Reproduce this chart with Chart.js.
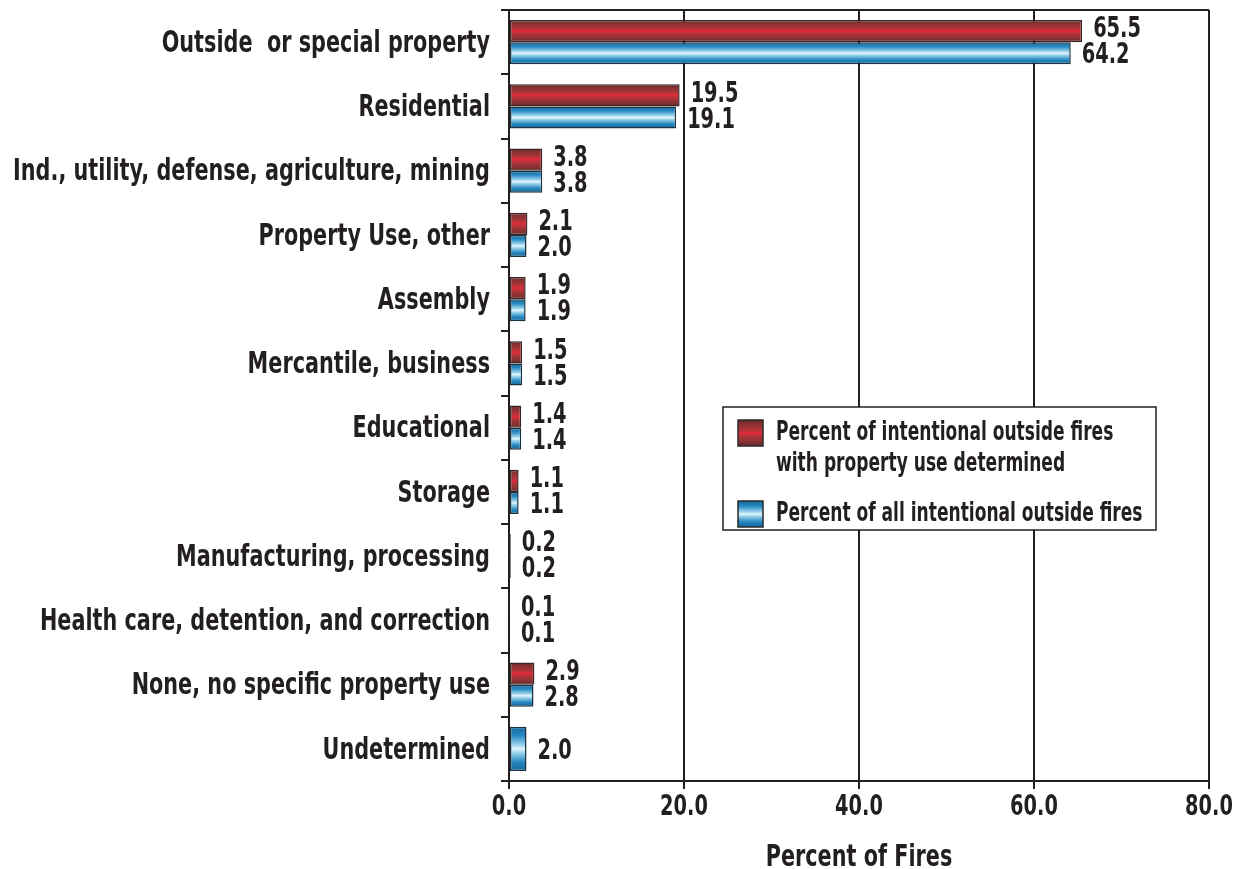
<!DOCTYPE html>
<html>
<head>
<meta charset="utf-8">
<script src="https://cdn.jsdelivr.net/npm/chart.js@4/dist/chart.umd.min.js"></script>
<style>
  html, body { margin: 0; padding: 0; background: #fff; }
  #wrap { width: 1240px; height: 869px; }
</style>
</head>
<body>
<div id="wrap"><canvas id="chart" width="1240" height="869"></canvas></div>
<script>
var categories = [
  'Outside  or special property',
  'Residential',
  'Ind., utility, defense, agriculture, mining',
  'Property Use, other',
  'Assembly',
  'Mercantile, business',
  'Educational',
  'Storage',
  'Manufacturing, processing',
  'Health care, detention, and correction',
  'None, no specific property use',
  'Undetermined'
];
var pctDetermined = [65.5, 19.5, 3.8, 2.1, 1.9, 1.5, 1.4, 1.1, 0.2, 0.1, 2.9, null];
var pctAll        = [64.2, 19.1, 3.8, 2.0, 1.9, 1.5, 1.4, 1.1, 0.2, 0.1, 2.8, 2.0];
var xTicks = [0, 20, 40, 60, 80];
var xTitle = 'Percent of Fires';

var FONT = '"DejaVu Sans Condensed", "Liberation Sans Narrow", sans-serif';
var INK = '#231f20';
var SQUEEZE = 0.77;   // narrow the condensed face a bit more

var redStops = [[0, '#6a2828'], [0.18, '#8c3333'], [0.4, '#b5343a'], [0.5, '#e4293c'], [0.6, '#b5343a'], [0.82, '#8c3333'], [1, '#6a2828']];
var blueStops = [[0, '#17699c'], [0.2, '#2689c2'], [0.42, '#9fd6ef'], [0.5, '#e6f5fc'], [0.58, '#9fd6ef'], [0.8, '#2486be'], [1, '#17699c']];

function makeGrad(ctx, top, bottom, stops) {
  var g = ctx.createLinearGradient(0, top, 0, bottom);
  stops.forEach(function (s) { g.addColorStop(s[0], s[1]); });
  return g;
}

function squeezedText(ctx, text, x, y, size, align, sx) {
  ctx.save();
  ctx.font = 'bold ' + size + 'px ' + FONT;
  ctx.textAlign = align;
  ctx.textBaseline = 'middle';
  ctx.fillStyle = INK;
  ctx.translate(x, y);
  ctx.scale(sx || SQUEEZE, 1);
  ctx.fillText(text, 0, 0);
  ctx.restore();
}

// shaded fill per bar, built from the element's own geometry
var barShading = {
  id: 'barShading',
  beforeDatasetsDraw: function (chart) {
    chart.data.datasets.forEach(function (ds, di) {
      var meta = chart.getDatasetMeta(di);
      meta.data.forEach(function (el) {
        var h = el.height;
        el.options.backgroundColor = makeGrad(chart.ctx, el.y - h / 2, el.y + h / 2, ds.stops);
      });
    });
  }
};

// axis labels, drawn at the scales' own pixel positions
var axisText = {
  id: 'axisText',
  afterDraw: function (chart) {
    var ctx = chart.ctx, xs = chart.scales.x, ys = chart.scales.y, a = chart.chartArea;
    categories.forEach(function (c, i) {
      squeezedText(ctx, c, a.left - 19, ys.getPixelForValue(i) + 2, 30, 'right');
    });
    xTicks.forEach(function (v) {
      squeezedText(ctx, v.toFixed(1), xs.getPixelForValue(v), a.bottom + 27, 28, 'center');
    });
    squeezedText(ctx, xTitle, (a.left + a.right) / 2, a.bottom + 77, 30, 'center');
  }
};

// value text at the end of each bar
var valueLabels = {
  id: 'valueLabels',
  afterDatasetsDraw: function (chart) {
    var ctx = chart.ctx;
    chart.data.datasets.forEach(function (ds, di) {
      var meta = chart.getDatasetMeta(di);
      meta.data.forEach(function (el, i) {
        var v = ds.data[i];
        if (v === null || v === undefined) return;
        squeezedText(ctx, v.toFixed(1), el.x + 11, el.y + ds.labelShift, 28, 'left');
      });
    });
  }
};

// top border of the plot and the boxed legend
var frameAndLegend = {
  id: 'frameAndLegend',
  afterDraw: function (chart) {
    var ctx = chart.ctx, a = chart.chartArea;
    ctx.save();
    ctx.strokeStyle = INK;
    ctx.lineWidth = 2;
    ctx.beginPath();
    ctx.moveTo(a.left, a.top);
    ctx.lineTo(a.right, a.top);
    ctx.stroke();

    var bx = 723, by = 407, bw = 433, bh = 123;
    ctx.fillStyle = '#fff';
    ctx.fillRect(bx, by, bw, bh);
    ctx.lineWidth = 1.5;
    ctx.strokeRect(bx, by, bw, bh);

    var rows = [
      { ds: chart.data.datasets[0], sy: 420, ty: [433, 464] },
      { ds: chart.data.datasets[1], sy: 501, ty: [514] }
    ];
    rows.forEach(function (r) {
      ctx.fillStyle = makeGrad(ctx, r.sy, r.sy + 26, r.ds.stops);
      ctx.fillRect(738, r.sy, 25, 26);
      ctx.strokeStyle = '#2a2a2a';
      ctx.lineWidth = 1.5;
      ctx.strokeRect(738, r.sy, 25, 26);
      r.ds.label.split('\n').forEach(function (line, k) {
        squeezedText(ctx, line, 776, r.ty[k], 26, 'left', 0.73);
      });
    });
    ctx.restore();
  }
};

new Chart(document.getElementById('chart'), {
  type: 'bar',
  data: {
    labels: categories,
    datasets: [
      {
        label: 'Percent of intentional outside fires\nwith property use determined',
        data: pctDetermined,
        stops: redStops,
        labelShift: -1,
        backgroundColor: function () { return '#b5343a'; },
        borderColor: '#3a2626',
        borderWidth: 1.5,
        borderSkipped: false,
        skipNull: true
      },
      {
        label: 'Percent of all intentional outside fires',
        data: pctAll,
        stops: blueStops,
        labelShift: 3,
        backgroundColor: function () { return '#2689c2'; },
        borderColor: '#1d3340',
        borderWidth: 1.5,
        borderSkipped: false,
        skipNull: true
      }
    ]
  },
  options: {
    indexAxis: 'y',
    responsive: false,
    animation: false,
    datasets: { bar: { barPercentage: 1, categoryPercentage: 0.69 } },
    layout: { padding: { top: 10, right: 31, left: 0, bottom: 0 } },
    plugins: {
      legend: { display: false },
      tooltip: { enabled: false }
    },
    scales: {
      x: {
        min: 0,
        max: 80,
        afterBuildTicks: function (s) { s.ticks = xTicks.map(function (v) { return { value: v }; }); },
        afterFit: function (s) { s.height = 88; },
        grid: { color: INK, lineWidth: 2, tickLength: 8 },
        border: { color: INK, width: 2 },
        ticks: { display: false }
      },
      y: {
        afterFit: function (s) { s.width = 509; },
        grid: { drawOnChartArea: false, color: INK, lineWidth: 2, tickLength: 8, offset: true },
        border: { color: INK, width: 2 },
        ticks: { display: false }
      }
    }
  },
  plugins: [barShading, valueLabels, frameAndLegend, axisText]
});
</script>
</body>
</html>
